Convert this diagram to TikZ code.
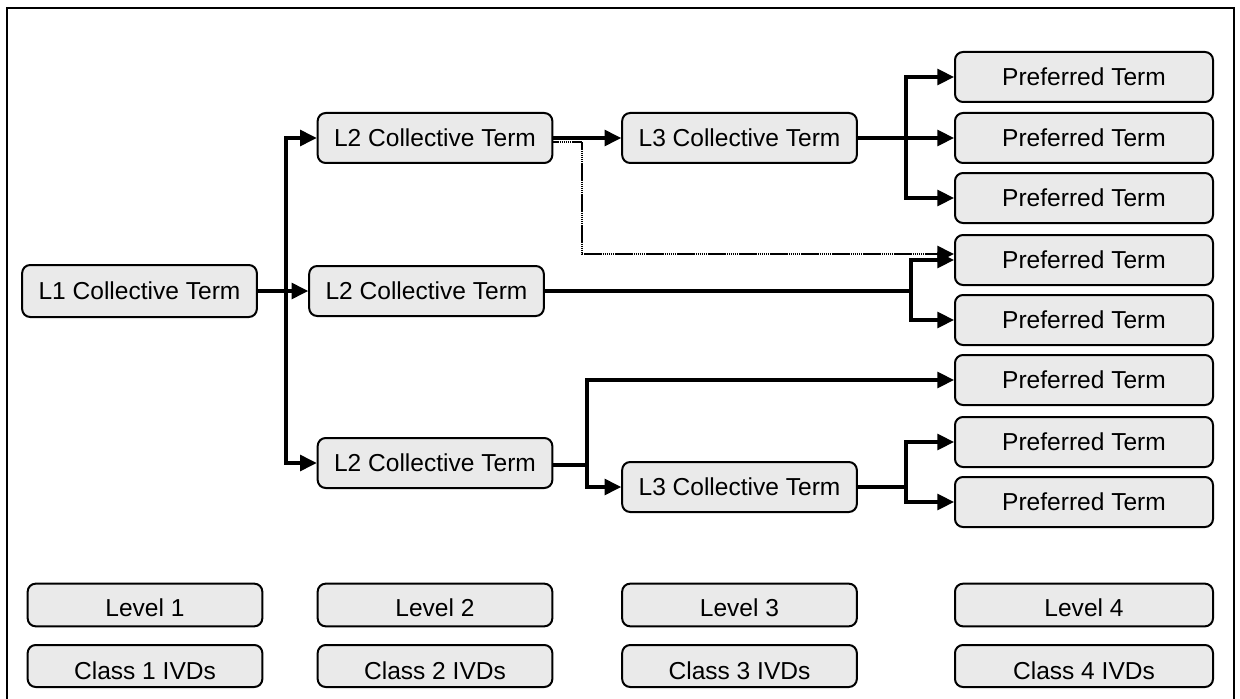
\documentclass[tikz,border=0pt]{standalone}
\usepackage{fontspec}
\setmainfont{Liberation Sans}
\usetikzlibrary{arrows.meta,positioning,calc}
\definecolor{boxgray}{RGB}{234,234,234}
\tikzset{
  box/.style   = {draw, rounded corners=6pt, fill=boxgray, line width=1.5pt,
                  minimum height=37.5pt, inner sep=0pt,
                  font=\fontsize{18.4}{20}\selectfont},
  term/.style  = {box, minimum width=176pt},
  pref/.style  = {box, minimum width=193.5pt},
  legend/.style= {box, minimum height=32pt, text height=17pt, text depth=0pt},
  link/.style  = {line width=2.3pt},
  post/.style  = {link, -{Triangle[length=12.5pt,width=12pt]}},
  faint/.style = {post, line width=2pt, dash pattern=on 1.2pt off 0.35pt}
}

\begin{document}
\begin{tikzpicture}[x=0.75pt,y=-0.75pt]
  \useasboundingbox (0,0) rectangle (1240,699);
  \draw[line width=1.8pt] (7,702) -- (7,8) -- (1234,8) -- (1234,702);

  % terms
  \node[term, minimum height=39pt] (l1) at (139.5,291) {L1 Collective Term};
  \node[term] (l2a) at (435,138) {L2 Collective Term};
  \node[term] (l2b) at (426.5,291) {L2 Collective Term};
  \node[term] (l2c) at (435,463) {L2 Collective Term};
  \node[term] (l3a) at (739.5,138) {L3 Collective Term};
  \node[term] (l3b) at (739.5,487) {L3 Collective Term};
  \foreach \y [count=\i] in {77,138,198,260,320,380,442,502}
    \node[pref] (pt\i) at (1084,\y) {Preferred Term};

  % levels and classes
  \foreach \x/\w [count=\i] in {145/176,435/176,739.5/176,1084/193.5} {
    \node[legend, minimum width=\w pt] (lev\i) at (\x,605) {Level \i};
    \node[legend, minimum width=\w pt, minimum height=31.5pt, text height=20.7pt]
      (cls\i) at (\x,666) {Class \i\ IVDs};
  }

  % junctions
  \coordinate (j1) at (286,291);
  \coordinate (j2) at (582,254);
  \coordinate (j3) at (906,138);
  \coordinate (j4) at (911,291);
  \coordinate (j5) at (587,465);
  \coordinate (j6) at (906,487);

  % connectors
  \draw[post] (l1) -- (l2b);
  \draw[post] (j1) |- (l2a);
  \draw[post] (j1) |- (l2c);
  \draw[post] (l2a) -- (l3a);
  \draw[faint] ([yshift=-3pt]l2a.east) -| (j2) -- (j2 -| pt4.west);
  \draw[link] (l3a) -- (j3);
  \draw[post] (j3) |- (pt1);
  \draw[post] (j3) -- (pt2);
  \draw[post] (j3) |- (pt3);
  \draw[link] (l2b) -- (j4);
  \draw[post] (j4) |- (pt4);
  \draw[post] (j4) |- (pt5);
  \draw[link] (l2c.east |- j5) -- (j5);
  \draw[post] (j5) |- (pt6);
  \draw[post] (j5) |- (l3b);
  \draw[link] (l3b) -- (j6);
  \draw[post] (j6) |- (pt7);
  \draw[post] (j6) |- (pt8);
\end{tikzpicture}
\end{document}
